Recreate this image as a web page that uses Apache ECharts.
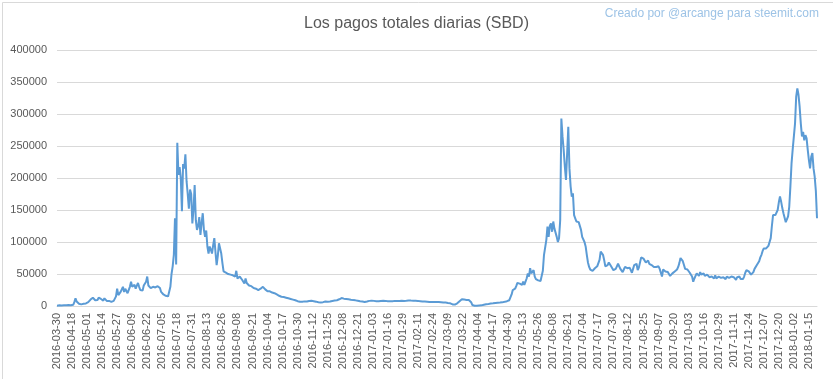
<!DOCTYPE html>
<html>
<head>
<meta charset="utf-8">
<script src="https://cdn.jsdelivr.net/npm/echarts@6/dist/echarts.min.js"></script>
<style>
html,body{margin:0;padding:0;background:#fff;}
#c{width:833px;height:379px;}
</style>
</head>
<body>
<div id="c"></div>
<script>
// Category range (daily), with the days absent from the source data
var startDate = '2016-03-30';
var endDate = '2018-01-22';
var missingDates = ['2016-03-31','2016-04-01','2016-04-02','2016-04-03','2016-04-04','2016-04-05'];

var yTicks = [0, 50000, 100000, 150000, 200000, 250000, 300000, 350000, 400000];

// Daily total payouts (SBD)
var pay2016Spring = [
 500,800,1000,1200,900,1100,1300,1500,1200,1000,1400,1600,1300,1500,1800,
 6000,12000,7000,4000,3500,3000,2500,3000,3500,3000,4000,5000,
 6000,8000,10000,9000,13000,11000,9000,10000,9500,13000,10000,11000,9000,8500,12000,
 9000,8000,7000,8000,7500,6500,7000,8000,
 10000,15000,27000,17000,19000,22000,25000,30000,22000,27000,
 24000,20000,22000,30000,38000,30000,28000,33000,27000,30000,
 36000,30000,25000,28000,24000,32000,30000,38000,46000,32000,
 30000,28000,26000,30000,33000,29000,28000,31000,34000,28000,
 22000,20000,18000,17000,16000,15000
];
var pay2016Summer = [
 15000,17000,30000,50000,62000,80000,137000,65000,255000,205000,
 217000,200000,148000,222000,215000,237000,195000,175000,152000,182000,
 175000,129000,150000,189000,
 134000,119000,125000,139000,111000,130000,145000,119000,108000,118000,
 93000,82000,93000,88000,82000,95000,106000,84000,64000,78000,
 98000,100000,82000,67000,54000,
 55000,52000,53000,50000,52000,49000,46000,48000,47000,46000,
 55000,43000,46000,46000,43000,41000,38000,35000,43000,36000,
 33000,32000,30000,31000,29000,28000,25000,27000,28000,25000,
 26000,27000,28000,30000,28000,26000,25000,23000,22000,23000,
 22000,21000,22000,20000,19000,18000,17000,16000,15000,14500,
 14000,14000,13500,13000,12500,12000,11500,11000,11000,10000,
 9500,9000,8000,7500,7000,6800,7000,6500,7000,7200,
 6800,7000,7500,7800,8000,8200,7800,7500,7000,6800,
 6500,6000,5800,5500,5000,6000,6500,7000,6800,6500,
 6500,7000,7500,7800,8000,8500,8500,9000,9500,10500,11500
];
var pay2016Winter = [
 12500,12000,11500,11000,11000,10800,10500,10000,9800,9500,
 9200,9000,8800,8500,8200,8000,7500,7200,7000,6800,
 6300,6500,7000,7500,8000,8300,8400,8200,8000,7800,
 7600,7400,7400,7600,7800,8000,8100,8000,8000,7800,
 7600,7500,7400,7400,7600,7800,8000,8100,8000,8000,
 7900,8100,8300,8000,8000,8100,8200,8400,8500,8300,
 8400,8400,8200,8000,8100,8000,8000,7800,7600,7400,
 7200,7000,7000,6900,6700,6500,6400,6300,6300,6400,
 6300,6200,6300,6300,6200,6000,5800,5600,5400,5300,
 5300,5000,4700,4400,4200,3500,2500,1600,2200,3200,
 4200,5500,7500,9500,10500,10500,10000,9800,9500,9400,
 9500,9600,6000,1600,800,400
];
var pay2017Spring = [
 300,400,500,700,800,1000,1500,2000,2500,2800,
 3000,3200,3500,3800,4000,4200,4500,4800,5000,5200,
 5000,5400,5600,5700,6000,6500,7000,7500,8000,9000,
 12000,18000,25000,26000,27000,31000,36000,38000,35000,34000,
 33000,38000,33000,38000,43000,51000,46000,59000,51000,54000,
 56000,46000,42000,41000,40000,40000,39000,42000,55000,80000,
 77000,103000,124000,108000,125000,129000,116000,132000,121000,124000,
 108000,100000,106000,134000,293000,265000,244000,218000,197000,194000,
 280000,215000,187000,171000,176000,142000,137000,132000,133000,131000,
 129000,119000,108000,111000,100000,93000,80000,68000,61000,57000,
 56000,55000,57000,59000,61000,62000,64000,72000,85000,84000,
 80000,72000,62000,59000,64000,68000,65000,62000,59000,56000,
 54000,58000,62000,66000,64000,58000
];
var pay2017Autumn = [
 55000,53000,57000,61000,60000,59000,58000,60000,56000,52000,
 58000,64000,65000,66000,56000,60000,62000,76000,73000,74000,
 76000,68000,65000,71000,66000,65000,64000,62000,61000,64000,
 61000,60000,62000,58000,57000,46000,57000,55000,54000,57000,
 53000,50000,47000,50000,51000,54000,54000,55000,57000,61000,
 67000,75000,74000,70000,64000,58000,55000,57000,54000,52000,
 50000,46000,38000,43000,47000,51000,48000,47000,53000,49000,
 48000,51000,47000,46000,49000,47000,45000,44000,46000,44000,
 43000,48000,43000,42000,46000,43000,44000,41000,45000,43000,
 42000,46000,43000,44000,42000,46000,43000,45000,42000,41000,
 45000,43000,46000,42000,44000,42000,46000,52000,56000,55000,
 54000,51000,49000,47000,53000,58000,61000,64000,67000,70000,
 76000
];
var pay2017Winter = [
 80000,86000,90000,89000,90000,93000,94000,96000,106000,125000,
 142000,143000,142000,142000,150000,162000,171000,163000,153000,145000,
 138000,131000,129000,140000,155000,187000,223000,245000,265000,285000,
 327000,340000,330000,311000,285000,265000,272000,259000,267000,262000,
 244000,228000,215000,233000,239000,215000,202000,180000,137000
];

var values = [].concat(pay2016Spring, pay2016Summer, pay2016Winter, pay2017Spring, pay2017Autumn, pay2017Winter);

function pad(n){ return n < 10 ? '0' + n : '' + n; }
var dates = [];
var d = new Date(startDate + 'T00:00:00Z');
var end = new Date(endDate + 'T00:00:00Z');
while (d <= end) {
  var s = d.getUTCFullYear() + '-' + pad(d.getUTCMonth() + 1) + '-' + pad(d.getUTCDate());
  if (missingDates.indexOf(s) < 0) dates.push(s);
  d = new Date(d.getTime() + 86400000);
}

var FONT = '"Liberation Sans", Arial, sans-serif';
var chart = echarts.init(document.getElementById('c'), null, {renderer: 'canvas'});
chart.setOption({
  animation: false,
  backgroundColor: '#ffffff',
  title: {
    text: 'Los pagos totales diarias (SBD)',
    left: 'center',
    top: 11,
    textStyle: {fontFamily: FONT, fontSize: 16, fontWeight: 'normal', color: '#595959'}
  },
  graphic: [
    {type: 'rect', left: 0, top: 0, shape: {x: 0.5, y: 0.5, width: 832, height: 378},
     style: {fill: 'none', stroke: '#d9d9d9', lineWidth: 1}, silent: true},
    {type: 'text', right: 14, top: 8,
     style: {text: 'Creado por @arcange para steemit.com', fill: '#9dc3e6', font: '12px ' + FONT}}
  ],
  grid: {left: 57, right: 16, top: 50, bottom: 73, containLabel: false},
  xAxis: {
    type: 'category',
    data: dates,
    boundaryGap: false,
    axisLine: {show: true, lineStyle: {color: '#d9d9d9', width: 1}},
    axisTick: {show: false},
    axisLabel: {interval: 12, rotate: 90, margin: 7, color: '#595959', fontSize: 11, fontFamily: FONT},
    splitLine: {show: false}
  },
  yAxis: {
    type: 'value',
    min: yTicks[0],
    max: yTicks[yTicks.length - 1],
    interval: yTicks[1] - yTicks[0],
    axisLine: {show: false},
    axisTick: {show: false},
    axisLabel: {margin: 10, color: '#595959', fontSize: 11, fontFamily: FONT,
      formatter: function (v) { return String(v); }},
    splitLine: {lineStyle: {color: '#d9d9d9', width: 1}}
  },
  series: [{
    type: 'line',
    data: values,
    showSymbol: false,
    symbol: 'none',
    lineStyle: {color: '#5b9bd5', width: 2},
    itemStyle: {color: '#5b9bd5'}
  }]
});
</script>
</body>
</html>
